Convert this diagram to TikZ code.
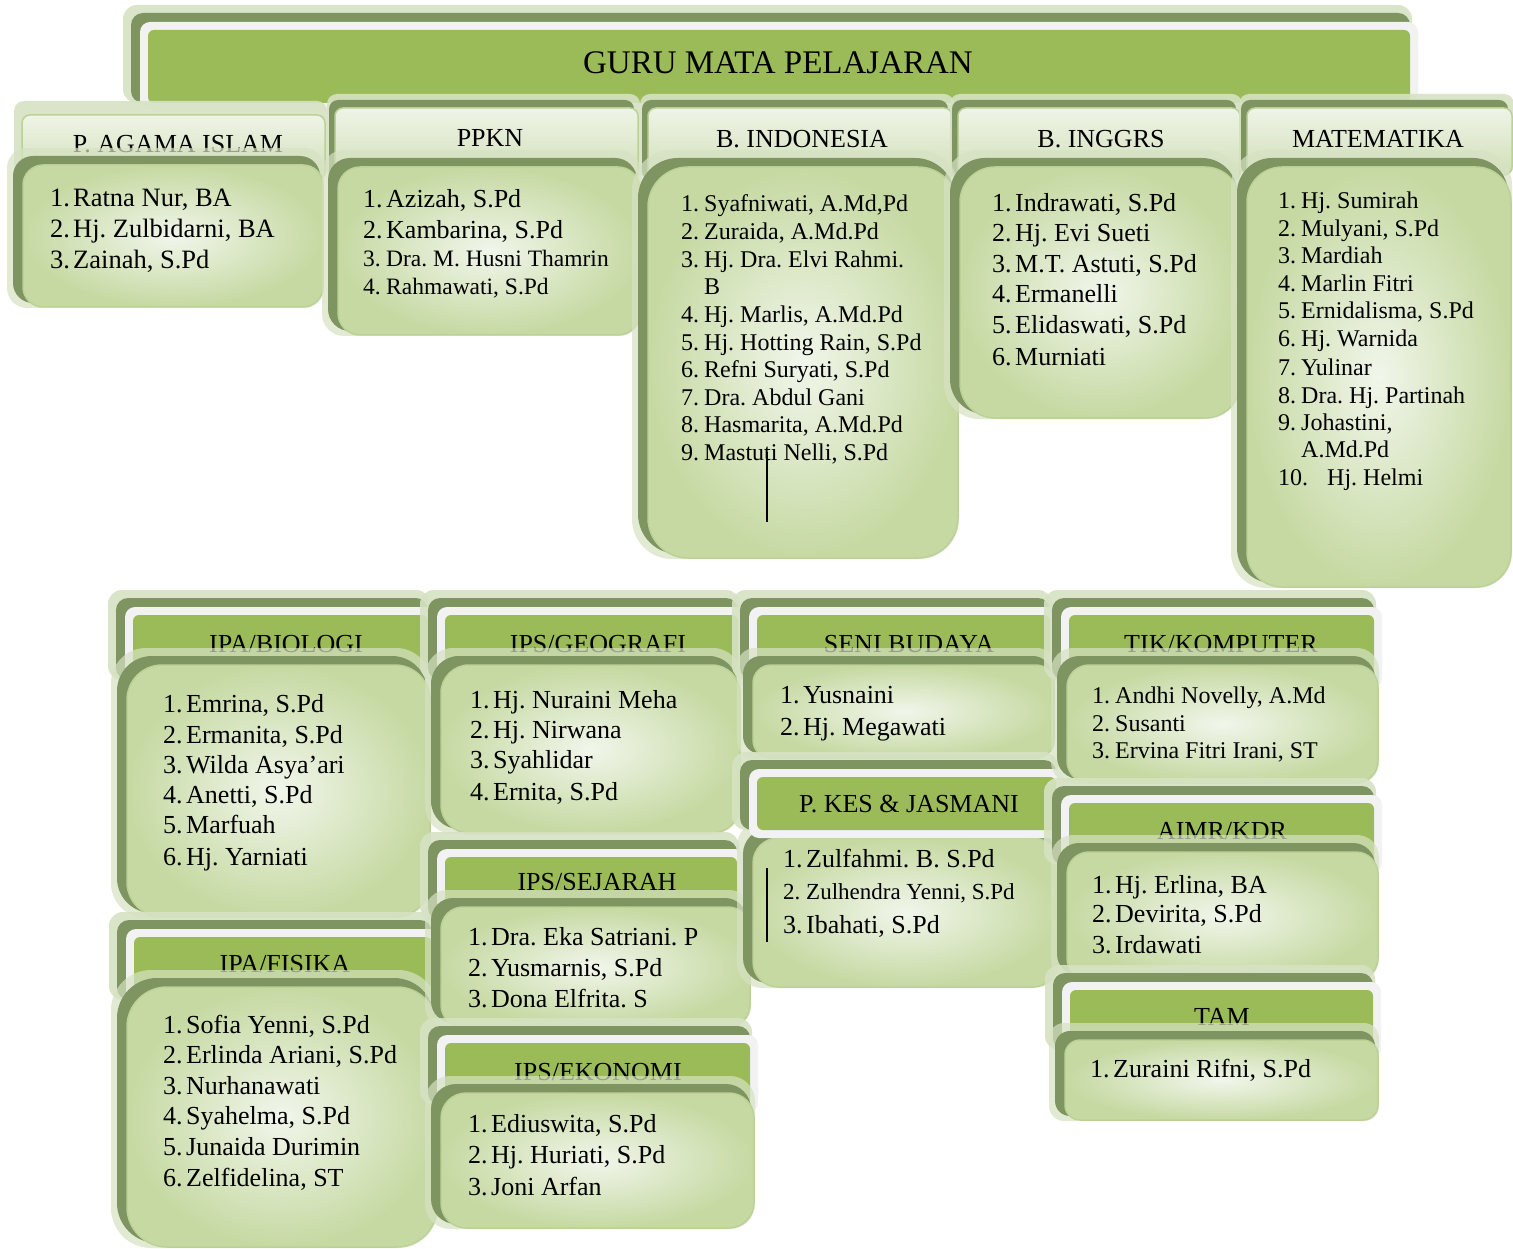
\documentclass[tikz,border=0pt]{standalone}
\usepackage{fontspec}
\setmainfont{Liberation Serif}
\frenchspacing
\definecolor{gr}{HTML}{9BBB59}
\definecolor{dk}{HTML}{7E9461}
\definecolor{halo}{HTML}{D6E2C3}
\definecolor{wband}{HTML}{F2F2F2}
\definecolor{cA}{HTML}{C6D9A2}
\definecolor{cB}{HTML}{F1F6EB}
\definecolor{cborder}{HTML}{BCD196}
\definecolor{lA}{HTML}{EFF4E7}
\definecolor{lB}{HTML}{D0DFB7}
\tikzset{
  entry/.style={anchor=base west, inner sep=0pt, text=black},
  htext/.style={anchor=base, inner sep=0pt, text=black, font=\fontsize{26}{30}\selectfont},
  stray/.style={line width=1.3pt, black},
}
% green header card: x1 y1 x2 y2 of the green face
\newcommand{\gbox}[4]{%
  \fill[halo, opacity=.9, rounded corners=14pt] ({#1-25},{#2-25}) rectangle ({#3+2},{#4});
  \fill[dk, rounded corners=12pt] ({#1-17},{#2-17}) rectangle (#3,#4);
  \fill[wband, rounded corners=10pt] ({#1-8},{#2-8}) rectangle ({#3+8},{#4+8});
  \fill[gr, rounded corners=6pt] (#1,#2) rectangle (#3,#4);
}
% light header card: x1 y1 x2 y2 dark(1/0)
\newcommand{\lbox}[5]{%
  \fill[halo, opacity=.9, rounded corners=10pt] ({#1-8},{#2-14}) rectangle ({#3+2},{#4});
  \ifnum#5=1 \fill[dk, rounded corners=9pt] ({#1-6},{#2-8}) rectangle ({#3-4},{#4});\fi
  \shade[top color=lA, bottom color=lB, draw=cborder, line width=1.5pt, rounded corners=8pt] (#1,#2) rectangle (#3,#4);
}
% content card: x1 y1 x2 y2 radius
\newcommand{\cbox}[5]{%
  \fill[halo, opacity=.7, rounded corners=#5pt] ({#1-16},{#2-17}) rectangle ({#3+1},{#4+1});
  \fill[dk, rounded corners=#5pt] ({#1-10},{#2-9}) rectangle ({#3-3},{#4-4});
  \shade[inner color=cB, outer color=cA, draw=cborder, line width=1.5pt, rounded corners=#5pt] (#1,#2) rectangle (#3,#4);
}
\newcommand{\ent}[6]{\node[entry, font=\fontsize{#4}{#4}\selectfont] (#1) at (#2,#3) {\makebox[23pt][l]{#5}#6};}
\begin{document}
\begin{tikzpicture}[x=1pt, y=-1pt]
\fill[white] (0,0) rectangle (1513,1249);
\useasboundingbox (0,0) rectangle (1513,1249);

% ---------- title ----------
\gbox{148}{30}{1410}{103}
\node[anchor=base, inner sep=0pt, font=\fontsize{33}{40}\selectfont] (title) at (778,74) {GURU MATA PELAJARAN};

% ---------- row 1 headers ----------
\lbox{22}{115}{325}{180}{0}
\node[htext] (hag) at (178,153) {P. AGAMA ISLAM};
\lbox{335}{108}{638}{180}{1}
\node[htext] (hpp) at (490,147) {PPKN};
\lbox{648}{108}{952}{180}{1}
\node[htext] (hbi) at (802,148) {B. INDONESIA};
\lbox{958}{108}{1240}{180}{1}
\node[htext] (hbe) at (1101,148) {B. INGGRS};
\lbox{1247}{108}{1512}{175}{1}
\node[htext] (hmt) at (1378,148) {MATEMATIKA};

% ---------- row 1 contents ----------
\cbox{23}{165}{323}{307}{20}
\ent{ag1}{50}{207}{26.5}{1.}{Ratna Nur, BA}
\ent{ag2}{50}{238}{26.5}{2.}{Hj. Zulbidarni, BA}
\ent{ag3}{50}{269}{26.5}{3.}{Zainah, S.Pd}

\cbox{338}{167}{640}{335}{22}
\ent{pp1}{363}{208}{26}{1.}{Azizah, S.Pd}
\ent{pp2}{363}{239}{26}{2.}{Kambarina, S.Pd}
\ent{pp3}{363}{267}{23.5}{3.}{Dra. M. Husni Thamrin}
\ent{pp4}{363}{295}{23.5}{4.}{Rahmawati, S.Pd}

\cbox{648}{167}{958}{558}{40}
\ent{bi1}{681}{212}{24}{1.}{Syafniwati, A.Md,Pd}
\ent{bi2}{681}{239.6}{24}{2.}{Zuraida, A.Md.Pd}
\ent{bi3}{681}{267.2}{24}{3.}{Hj. Dra. Elvi Rahmi.}
\ent{bi3b}{681}{294.8}{24}{}{B}
\ent{bi4}{681}{322.4}{24}{4.}{Hj. Marlis, A.Md.Pd}
\ent{bi5}{681}{350}{24}{5.}{Hj. Hotting Rain, S.Pd}
\ent{bi6}{681}{377.6}{24}{6.}{Refni Suryati, S.Pd}
\ent{bi7}{681}{405.2}{24}{7.}{Dra. Abdul Gani}
\ent{bi8}{681}{432.8}{24}{8.}{Hasmarita, A.Md.Pd}
\ent{bi9}{681}{460.4}{24}{9.}{Mastuti Nelli, S.Pd}
\draw[stray] (767,452) -- (767,522);

\cbox{960}{167}{1240}{418}{35}
\ent{be1}{992}{212}{26}{1.}{Indrawati, S.Pd}
\ent{be2}{992}{242}{26}{2.}{Hj. Evi Sueti}
\ent{be3}{992}{273}{26}{3.}{M.T. Astuti, S.Pd}
\ent{be4}{992}{303}{26}{4.}{Ermanelli}
\ent{be5}{992}{334}{26}{5.}{Elidaswati, S.Pd}
\ent{be6}{992}{366}{26}{6.}{Murniati}

\cbox{1247}{167}{1511}{587}{35}
\ent{mt1}{1278}{209}{24}{1.}{Hj. Sumirah}
\ent{mt2}{1278}{237}{24}{2.}{Mulyani, S.Pd}
\ent{mt3}{1278}{264}{24}{3.}{Mardiah}
\ent{mt4}{1278}{292}{24}{4.}{Marlin Fitri}
\ent{mt5}{1278}{319}{24}{5.}{Ernidalisma, S.Pd}
\ent{mt6}{1278}{347}{24}{6.}{Hj. Warnida}
\ent{mt7}{1278}{375}{24}{7.}{Yulinar}
\ent{mt8}{1278}{403}{24}{8.}{Dra. Hj. Partinah}
\ent{mt9}{1278}{430}{24}{9.}{Johastini,}
\ent{mt9b}{1278}{457}{24}{}{A.Md.Pd}
\node[entry, font=\fontsize{24}{24}\selectfont] (mt10) at (1278,485) {\makebox[49pt][l]{10.}Hj. Helmi};

% ---------- row 2, column 1 ----------
\gbox{133}{615}{428}{680}
\node[htext] (hbio) at (286,652) {IPA/BIOLOGI};
\cbox{127}{665}{430}{917}{35}
\ent{bo1}{163}{712}{26}{1.}{Emrina, S.Pd}
\ent{bo2}{163}{743}{26}{2.}{Ermanita, S.Pd}
\ent{bo3}{163}{773}{26}{3.}{Wilda Asya’ari}
\ent{bo4}{163}{803}{26}{4.}{Anetti, S.Pd}
\ent{bo5}{163}{833}{26}{5.}{Marfuah}
\ent{bo6}{163}{865}{26}{6.}{Hj. Yarniati}

\gbox{134}{937}{432}{1000}
\node[htext] (hfis) at (285,972) {IPA/FISIKA};
\cbox{127}{987}{437}{1247}{40}
\ent{fi1}{163}{1033}{26}{1.}{Sofia Yenni, S.Pd}
\ent{fi2}{163}{1063}{26}{2.}{Erlinda Ariani, S.Pd}
\ent{fi3}{163}{1094}{26}{3.}{Nurhanawati}
\ent{fi4}{163}{1124}{26}{4.}{Syahelma, S.Pd}
\ent{fi5}{163}{1155}{26}{5.}{Junaida Durimin}
\ent{fi6}{163}{1186}{26}{6.}{Zelfidelina, ST}

% ---------- row 2, column 2 ----------
\gbox{445}{615}{738}{680}
\node[htext] (hgeo) at (598,652) {IPS/GEOGRAFI};
\cbox{441}{665}{740}{833}{28}
\ent{ge1}{470}{708}{26}{1.}{Hj. Nuraini Meha}
\ent{ge2}{470}{738}{26}{2.}{Hj. Nirwana}
\ent{ge3}{470}{768}{26}{3.}{Syahlidar}
\ent{ge4}{470}{800}{26}{4.}{Ernita, S.Pd}

\gbox{445}{857}{737}{920}
\node[htext] (hsej) at (597,890) {IPS/SEJARAH};
\cbox{441}{907}{750}{1027}{22}
\ent{sj1}{468}{945}{26}{1.}{Dra. Eka Satriani. P}
\ent{sj2}{468}{976}{26}{2.}{Yusmarnis, S.Pd}
\ent{sj3}{468}{1007}{26}{3.}{Dona Elfrita. S}

\gbox{445}{1043}{750}{1105}
\node[htext] (heko) at (598,1080) {IPS/EKONOMI};
\cbox{441}{1093}{754}{1228}{25}
\ent{ek1}{468}{1132}{26}{1.}{Ediuswita, S.Pd}
\ent{ek2}{468}{1163}{26}{2.}{Hj. Huriati, S.Pd}
\ent{ek3}{468}{1195}{26}{3.}{Joni Arfan}

% ---------- row 2, column 3 ----------
\gbox{757}{615}{1050}{680}
\node[htext] (hsen) at (909,652) {SENI BUDAYA};
\cbox{753}{665}{1054}{758}{18}
\ent{sb1}{780}{703}{26}{1.}{Yusnaini}
\ent{sb2}{780}{735}{26}{2.}{Hj. Megawati}

\cbox{753}{838}{1058}{987}{25}
\gbox{757}{777}{1056}{830}
\node[htext] (hkes) at (909,812) {P. KES \& JASMANI};
\ent{ks1}{783}{867}{26}{1.}{Zulfahmi. B. S.Pd}
\ent{ks2}{783}{899}{23}{2.}{Zulhendra Yenni, S.Pd}
\ent{ks3}{783}{933}{26}{3.}{Ibahati, S.Pd}
\draw[stray] (767,868) -- (767,942);

% ---------- row 2, column 4 ----------
\gbox{1069}{615}{1374}{680}
\node[htext] (htik) at (1221,652) {TIK/KOMPUTER};
\cbox{1067}{665}{1378}{783}{22}
\ent{tk1}{1092}{703}{24}{1.}{Andhi Novelly, A.Md}
\ent{tk2}{1092}{731}{24}{2.}{Susanti}
\ent{tk3}{1092}{758}{24}{3.}{Ervina Fitri Irani, ST}

\gbox{1069}{803}{1374}{865}
\node[htext] (haim) at (1222,839) {AIMR/KDR};
\cbox{1067}{852}{1378}{980}{22}
\ent{ai1}{1092}{893}{26}{1.}{Hj. Erlina, BA}
\ent{ai2}{1092}{922}{26}{2.}{Devirita, S.Pd}
\ent{ai3}{1092}{953}{26}{3.}{Irdawati}

\gbox{1070}{990}{1373}{1050}
\node[htext] (htam) at (1222,1025) {TAM};
\cbox{1065}{1040}{1378}{1120}{15}
\ent{tm1}{1090}{1077}{26}{1.}{Zuraini Rifni, S.Pd}
\end{tikzpicture}
\end{document}
